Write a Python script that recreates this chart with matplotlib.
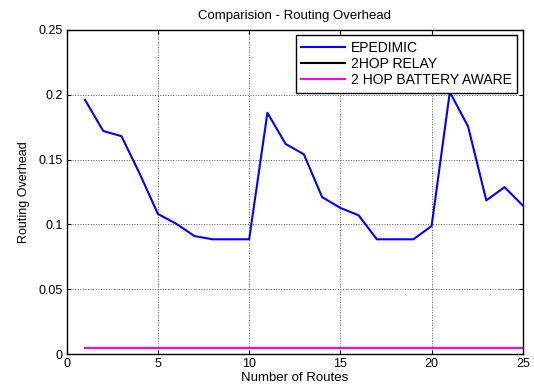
import numpy as np
import matplotlib.pyplot as plt

plt.rcParams['font.family'] = ['Liberation Sans', 'DejaVu Sans']

routes = list(range(1, 26))
epidemic = [0.196, 0.172, 0.168, 0.139, 0.108, 0.1005, 0.091, 0.0885, 0.0885, 0.0885,
            0.186, 0.162, 0.154, 0.121, 0.1127, 0.107, 0.0885, 0.0885, 0.0885, 0.0987,
            0.202, 0.1755, 0.1185, 0.1287, 0.1146]
two_hop_relay = [0.0045] * 25
two_hop_battery = [0.0045] * 25

fig = plt.figure(figsize=(5.34, 3.87), dpi=100)
ax = fig.add_axes([0.125, 0.085, 0.854, 0.838])

ax.plot(routes, epidemic, color='#0000ff', lw=1.5, label='EPEDIMIC')
ax.plot(routes, two_hop_relay, color='black', lw=1.5, label='2HOP RELAY')
ax.plot(routes, two_hop_battery, color='#ff00ff', lw=1.5, label='2 HOP BATTERY AWARE')

ax.set_xlim(0, 25)
ax.set_ylim(0, 0.25)
ax.set_xticks([0, 5, 10, 15, 20, 25])
ax.set_yticks([0, 0.05, 0.1, 0.15, 0.2, 0.25])
ax.set_yticklabels(['0', '0.05', '0.1', '0.15', '0.2', '0.25'])
ax.grid(True, color='#555555', ls=':', lw=0.7)
ax.tick_params(direction='in', top=True, right=True, labelsize=9, length=3, pad=3)
for s in ax.spines.values():
    s.set_linewidth(1.0)

ax.set_title('Comparision - Routing Overhead', fontsize=9.5, pad=8)
ax.set_xlabel('Number of Routes', fontsize=9.5, labelpad=1.5)
ax.set_ylabel('Routing Overhead', fontsize=9, labelpad=6)

leg = ax.legend(loc='upper right', fontsize=10, fancybox=False, framealpha=1,
                edgecolor='black', borderpad=0.4, labelspacing=0.15,
                handlelength=3.1, handletextpad=0.45, borderaxespad=0.4)
leg.get_frame().set_linewidth(1.0)

fig.savefig('out.png', dpi=100)
